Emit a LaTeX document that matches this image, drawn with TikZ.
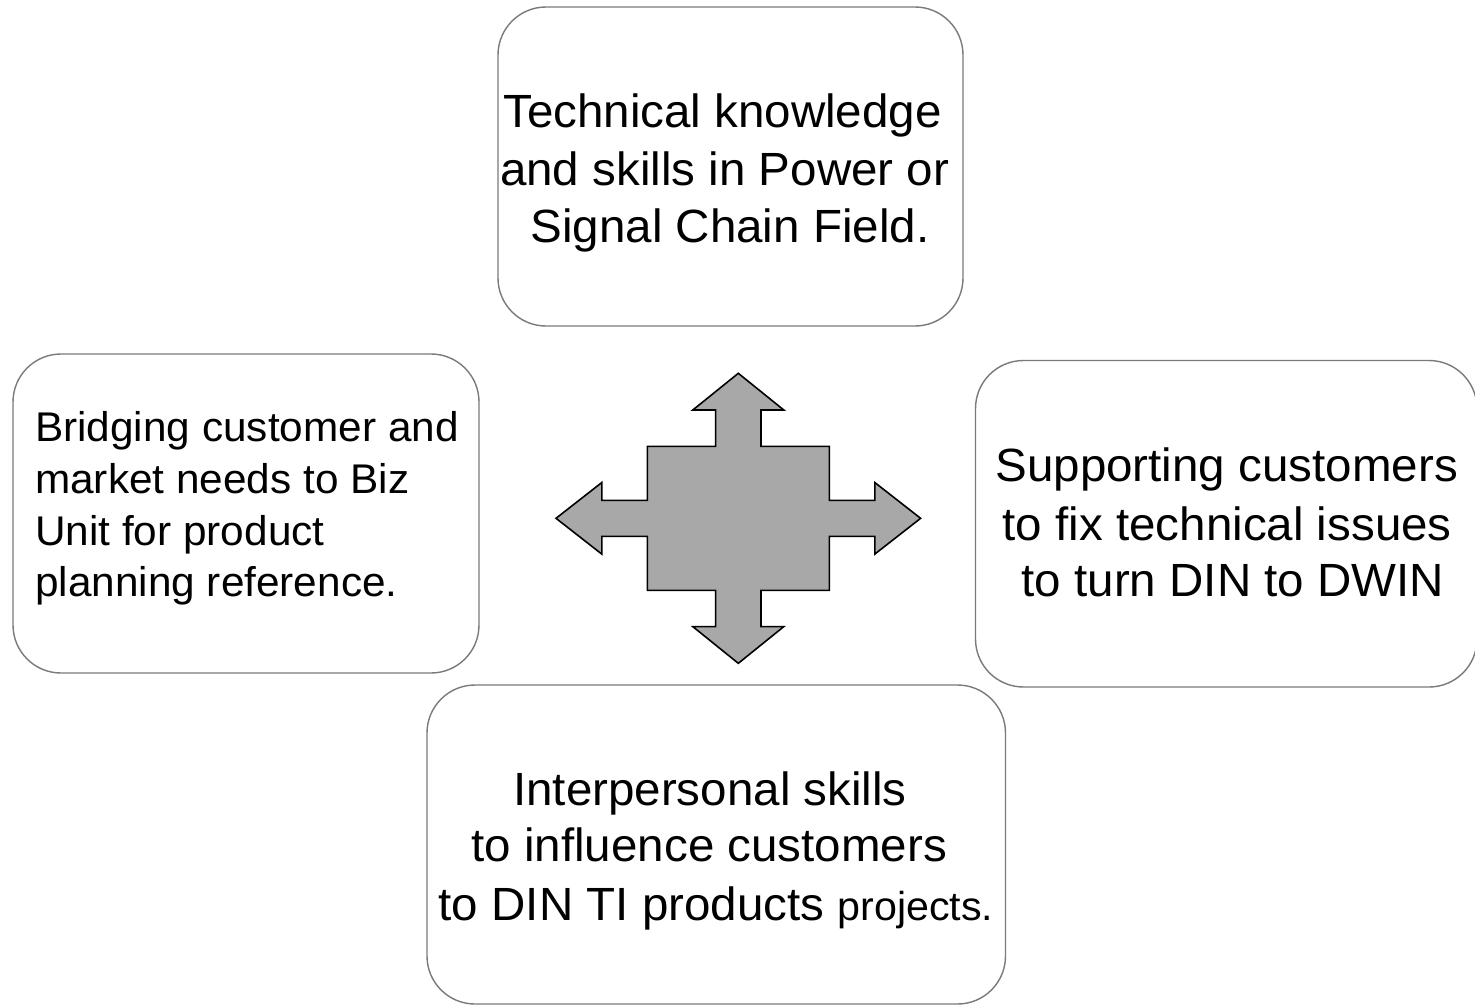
\documentclass[tikz,border=0pt]{standalone}
\usepackage{fontspec}
\setmainfont{Liberation Sans}[FakeStretch=1.02]
\definecolor{boxline}{RGB}{122,122,122}
\definecolor{arrowfill}{RGB}{168,168,168}
\begin{document}
\begin{tikzpicture}[x=1pt,y=-1pt,
  box/.style={draw=boxline, line width=1.4pt, rounded corners=48pt, rectangle, inner sep=0pt, fill=white},
  bigtxt/.style={font=\fontsize{46.6}{50}\selectfont, anchor=base, inner sep=0pt},
  smalltxt/.style={font=\fontsize{41.5}{45}\selectfont, anchor=base west, inner sep=0pt},
  cross/.style={draw=black, fill=arrowfill, line width=1.6pt, line join=miter}]
\useasboundingbox (0,0) rectangle (1475,1005);
\fill[white] (0,0) rectangle (1475,1005);

% boxes
\node[box, minimum width=465pt, minimum height=319pt] (top) at (730.5,166.5) {};
\node[box, minimum width=466pt, minimum height=319pt] (left) at (246,513.5) {};
\node[box, minimum width=501.5pt, minimum height=326.5pt] (right) at (1226.25,523.75) {};
\node[box, minimum width=578.5pt, minimum height=319pt] (bottom) at (716.25,844.5) {};

% top text
\node[bigtxt] (t1) at (722.5,127) {Technical knowledge};
\node[bigtxt] (t2) at (724.6,185) {and skills in Power or};
\node[bigtxt] (t3) at (730,242) {Signal Chain Field.};

% right text
\node[bigtxt] (r1) at (1226.7,481.7) {Supporting customers};
\node[bigtxt] (r2) at (1227.2,540) {to fix technical issues};
\node[bigtxt] (r3) at (1233,596.7) {to turn DIN to DWIN};

% left text
\node[smalltxt] (l1) at (35,441.7) {Bridging customer and};
\node[smalltxt] (l2) at (35,493.3) {market needs to Biz};
\node[smalltxt] (l3) at (35,545) {Unit for product};
\node[smalltxt] (l4) at (35,596.7) {planning reference.};

% bottom text
\node[bigtxt] (b1) at (710,805) {Interpersonal skills};
\node[bigtxt] (b2) at (709.2,861.7) {to influence customers};
\node[bigtxt] (b3) at (716,920) {to DIN TI products {\fontsize{40.4}{40}\selectfont projects.}};

% central four-way arrow
\coordinate (c) at (738.3,518.3);
\draw[cross, shift={(c)}]
  (0,-145) -- (45.5,-108.3) -- (22.7,-108.3) -- (22.7,-72) -- (91,-72) -- (91,-18)
  -- (136.5,-18) -- (136.5,-35.8) -- (182.3,0) -- (136.5,35.8) -- (136.5,18) -- (91,18)
  -- (91,72) -- (22.7,72) -- (22.7,108.3) -- (45.5,108.3) -- (0,145) -- (-45.5,108.3)
  -- (-22.7,108.3) -- (-22.7,72) -- (-91,72) -- (-91,18) -- (-136.5,18) -- (-136.5,35.8)
  -- (-182.3,0) -- (-136.5,-35.8) -- (-136.5,-18) -- (-91,-18) -- (-91,-72) -- (-22.7,-72)
  -- (-22.7,-108.3) -- (-45.5,-108.3) -- cycle;
\end{tikzpicture}
\end{document}
